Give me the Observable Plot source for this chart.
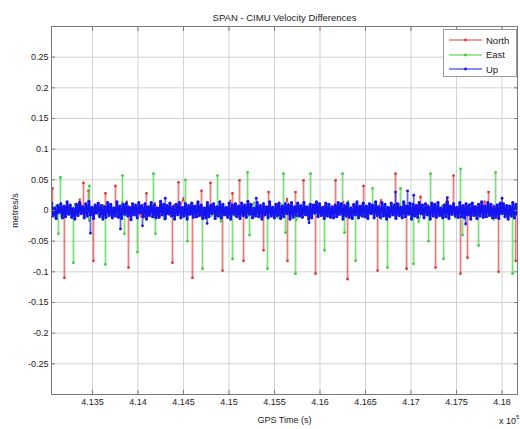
<!DOCTYPE html>
<html><head><meta charset="utf-8">
<script src="https://cdn.jsdelivr.net/npm/d3@7"></script>
<script src="https://cdn.jsdelivr.net/npm/@observablehq/plot@0.6"></script>
<style>
html,body{margin:0;padding:0;background:#fff;}
#wrap{position:relative;width:520px;height:429px;overflow:hidden;font-family:"Liberation Sans",Arial,sans-serif;color:#222;}
#legend{position:absolute;left:443px;top:29px;width:74px;height:48px;border:1px solid #9a9a9a;background:#fff;box-sizing:border-box;font-size:9.5px;}
#legend .row{position:absolute;left:0;height:12px;display:flex;align-items:center;}
#legend svg{display:block;}
#legend span{margin-left:2px;}
#mult{position:absolute;left:499px;top:414px;font-size:9px;white-space:nowrap;}
#mult sup{font-size:6px;vertical-align:5px;}
</style></head>
<body><div id="wrap"><div id="chart"></div><div id="legend"></div><div id="mult"></div></div>
<script>
// ---- texts ----
const title = "SPAN - CIMU Velocity Differences";
const yLabel = "metres/s";
const xLabel = "GPS Time (s)";
const xMultiplierBase = "x 10";
const xMultiplierExp = "5";
const seriesNames = ["North", "East", "Up"];
const seriesColors = ["#dc3a3a", "#3ccf3c", "#1414f0"];

// ---- axes ----
const timeStart = 413050, timeEnd = 418170;
const xTicks = [413500, 414000, 414500, 415000, 415500, 416000, 416500, 417000, 417500, 418000];
const yTicks = [-0.25, -0.2, -0.15, -0.1, -0.05, 0, 0.05, 0.1, 0.15, 0.2, 0.25];
const yDomain = [-0.3, 0.3];

// ---- baseline noise (mm/s), evenly sampled over the time span ----
const northNoise = [4,-6,9,-3,7,-8,18,-5,6,-9,3,-7,10,-4,8,-6,15,-8,5,-10,
7,-5,12,-9,4,-7,9,-3,20,-6,8,-11,6,-4,10,-8,5,-6,16,-9,
6,-8,11,-4,7,-10,4,-6,9,-7,19,-5,8,-9,6,-12,10,-4,7,-8,
5,-7,14,-6,9,-4,8,-11,6,-5,17,-8,4,-9,10,-6,7,-3,12,-8,
9,-5,6,-10,21,-7,5,-8,11,-4,7,-9,15,-6,8,-5,6,-11,9,-7];
const eastNoise = [-5,8,-9,4,-6,11,-4,7,-17,5,-8,9,-3,6,-10,14,-7,5,-9,6,
-4,10,-8,5,-15,7,-6,9,-11,4,-7,12,-5,8,-9,6,-18,5,-7,10,
-6,4,-9,13,-5,7,-8,6,-12,9,-4,8,-16,5,-7,11,-6,4,-10,7,
-5,9,-8,15,-6,4,-11,7,-5,10,-14,6,-8,5,-9,12,-4,7,-19,6,
-7,9,-5,8,-10,6,-13,5,-6,11,-8,4,-9,7,-15,10,-5,8,-6,9];
const upNoise = [12,-9,4,-13,8,-3,11,-12,7,-10,14,-6,9,-11,3,-14,10,-8,13,-5,
6,-12,11,-9,15,-7,5,-13,9,-4,12,-10,8,-14,6,-11,13,-8,10,-12,
4,-9,14,-11,7,-13,10,-6,12,-9,5,-15,11,-7,9,-12,13,-4,8,-10,
11,-14,6,-8,13,-10,9,-12,4,-11,15,-7,10,-13,8,-5,12,-9,6,-14,
10,-7,13,-12,5,-9,11,-14,8,-6,12,-11,7,-10,14,-8,9,-13,4,-12,
13,-10,8,-5,11,-13,6,-9,14,-12,10,-7,5,-11,12,-14,9,-6,11,-10,
7,-13,12,-8,9,-11,15,-6,10,-12,4,-9,13,-10,8,-14,11,-7,6,-12,
14,-9,5,-12,10,-8,12,-13,7,-10,11,-5,9,-14,13,-11,6,-8,12,-9,
8,-11,13,-7,6,-14,10,-12,9,-4,14,-10,11,-8,5,-13,12,-9,10,-11,
6,-12,9,-10,13,-6,11,-14,8,-9,12,-11,4,-13,10,-7,14,-12,7,-8,
12,-10,7,-13,11,-5,9,-12,14,-8,6,-11,13,-9,10,-14,5,-10,12,-7,
9,-13,11,-8,5,-12,14,-10,7,-6,12,-14,10,-9,8,-11,13,-5,9,-12,
11,-7,6,-14,12,-9,10,-11,13,-8,4,-12,9,-10,14,-13,7,-6,11,-9,
5,-11,13,-10,8,-12,11,-7,9,-14,12,-8,6,-13,10,-9,14,-11,7,-10,
13,-8,10,-12,6,-11,9,-13,12,-5,11,-10,8,-14,7,-9,13,-12,10,-6];

// ---- spikes [GPS time (s), m/s] ----
const northSpikes = [[413060,0.036],[413192,-0.11],[413401,0.045],[413456,0.032],[413511,-0.082],[413643,0.028],[413753,0.04],[413896,-0.093],[414093,0.028],[414379,-0.085],[414445,0.046],[414599,-0.11],[414698,0.032],[414797,0.045],[414929,-0.098],[415039,0.028],[415116,0.049],[415160,-0.082],[415380,-0.065],[415435,0.03],[415643,-0.082],[415731,0.03],[415819,0.049],[415951,-0.103],[416171,0.049],[416303,-0.112],[416479,0.04],[416633,-0.098],[416830,0.06],[416951,-0.095],[417105,0.022],[417270,-0.093],[417467,0.057],[417544,-0.103],[417621,-0.077],[417852,0.03],[417962,-0.1],[418150,-0.082]];
const eastSpikes = [[413126,-0.038],[413148,0.054],[413291,-0.085],[413467,0.04],[413643,-0.088],[413830,0.057],[413852,-0.038],[413995,-0.068],[414170,0.06],[414192,-0.038],[414522,0.05],[414544,-0.05],[414709,-0.095],[414874,0.057],[415039,-0.079],[415204,0.062],[415226,-0.04],[415423,-0.095],[415599,0.06],[415621,-0.036],[415731,-0.103],[415896,0.06],[416050,-0.065],[416248,0.06],[416270,-0.036],[416391,-0.082],[416578,0.036],[416742,-0.093],[416885,0.036],[417028,-0.087],[417193,-0.05],[417215,0.06],[417358,-0.079],[417544,0.068],[417566,-0.04],[417742,-0.057],[417929,0.062],[418116,-0.103]];
const upSpikes = [[413478,-0.037],[413808,-0.03],[414050,-0.025],[414300,0.02],[414760,-0.021],[415300,0.02],[415880,-0.02],[416830,0.03],[416962,0.032],[417030,0.025],[417400,0.021],[417600,-0.022],[418000,0.02]];

// ---- build tables ----
function noiseTable(arr) {
  const step = (timeEnd - timeStart) / (arr.length - 1);
  return arr.map((mm, i) => ({t: timeStart + i * step, v: mm / 1000}));
}
function spikeTable(arr) { return arr.map(([t, v]) => ({t, v})); }
const noise = [noiseTable(northNoise), noiseTable(eastNoise), noiseTable(upNoise)];
const spikes = [spikeTable(northSpikes), spikeTable(eastSpikes), spikeTable(upSpikes)];

const fmtX = d => String(+(d / 1e5).toFixed(3));
const fmtY = d => String(+d.toFixed(2));

const seriesMarks = [];
for (let s = 0; s < 3; s++) {
  const c = seriesColors[s];
  const isUp = s === 2;
  seriesMarks.push(
    Plot.ruleX(spikes[s], {x: "t", y1: 0, y2: "v", stroke: c, strokeWidth: 1.8, strokeOpacity: 0.65, clip: true}),
    Plot.dot(spikes[s], {x: "t", y: "v", r: 1.4, fill: c, stroke: "none", clip: true}),
    Plot.line(noise[s], {x: "t", y: "v", stroke: c, strokeWidth: isUp ? 2.3 : 1.1, clip: true}),
    Plot.dot(noise[s], {x: "t", y: "v", r: isUp ? 1.6 : 1.1, fill: c, stroke: "none", clip: true})
  );
}

const chart = Plot.plot({
  width: 520, height: 429,
  marginLeft: 51, marginRight: 3, marginTop: 26, marginBottom: 35,
  style: {fontFamily: "Liberation Sans, Arial, sans-serif", fontSize: "9px", color: "#222", background: "#fff"},
  x: {domain: [timeStart, timeEnd]},
  y: {domain: yDomain},
  marks: [
    Plot.gridX(xTicks, {stroke: "#d2d2d2", strokeOpacity: 1}),
    Plot.gridY(yTicks, {stroke: "#d2d2d2", strokeOpacity: 1}),
    ...seriesMarks,
    Plot.frame({stroke: "#7a7a7a"}),
    Plot.axisX(xTicks, {anchor: "bottom", tickSize: -4, tickPadding: 8, tickFormat: fmtX, label: xLabel, labelAnchor: "center", labelArrow: "none", labelOffset: 28, stroke: "#7a7a7a"}),
    Plot.axisX(xTicks, {anchor: "top", tickSize: -4, tickFormat: () => "", label: null, stroke: "#7a7a7a"}),
    Plot.axisY(yTicks, {anchor: "left", tickSize: -4, tickPadding: 7, tickFormat: fmtY, label: yLabel, labelAnchor: "center", labelArrow: "none", labelOffset: 40, stroke: "#7a7a7a"}),
    Plot.axisY(yTicks, {anchor: "right", tickSize: -4, tickFormat: () => "", label: null, stroke: "#7a7a7a"}),
    Plot.text([title], {frameAnchor: "top", dy: -12, fontSize: 9.5, fill: "#222"})
  ]
});
document.getElementById("chart").appendChild(chart);

// legend
const legend = document.getElementById("legend");
seriesNames.forEach((name, i) => {
  const row = document.createElement("div");
  row.className = "row";
  row.style.top = (4 + i * 14.5) + "px";
  const c = seriesColors[i];
  row.innerHTML = `<svg width="40" height="12"><line x1="5" x2="38" y1="6" y2="6" stroke="${c}" stroke-width="1"/><circle cx="21.5" cy="6" r="1.4" fill="${c}"/></svg><span>${name}</span>`;
  legend.appendChild(row);
});
document.getElementById("mult").innerHTML = `${xMultiplierBase}<sup>${xMultiplierExp}</sup>`;
</script></body></html>
